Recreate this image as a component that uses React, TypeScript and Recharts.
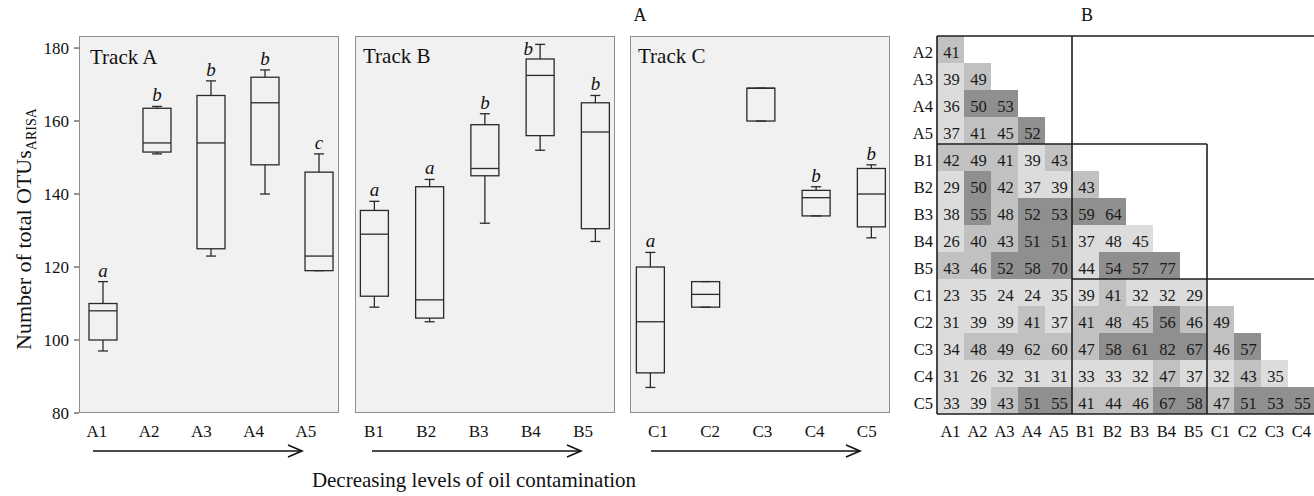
import React from 'react';
import { ComposedChart, Bar, XAxis, YAxis, ScatterChart, Scatter, ReferenceLine } from 'recharts';

const FONT = '"Liberation Serif", "Times New Roman", Times, serif';

// ---------- Panel A: boxplots ----------
const yTicks = [80, 100, 120, 140, 160, 180];

const trackACategories = ['A1', 'A2', 'A3', 'A4', 'A5'];
const trackAMin = [97, 151, 123, 140, 119];
const trackAQ1 = [100, 151.5, 125, 148, 119];
const trackAMedian = [108, 154, 154, 165, 123];
const trackAQ3 = [110, 163.5, 167, 172, 146];
const trackAMax = [116, 164, 171, 174, 151];
const trackALetters = ['a', 'b', 'b', 'b', 'c'];

const trackBCategories = ['B1', 'B2', 'B3', 'B4', 'B5'];
const trackBMin = [109, 105, 132, 152, 127];
const trackBQ1 = [112, 106, 145, 156, 130.5];
const trackBMedian = [129, 111, 147, 172.5, 157];
const trackBQ3 = [135.5, 142, 159, 177, 165];
const trackBMax = [138, 144, 162, 181, 167];
const trackBLetters = ['a', 'a', 'b', 'b', 'b'];

const trackCCategories = ['C1', 'C2', 'C3', 'C4', 'C5'];
const trackCMin = [87, 109, 160, 134, 128];
const trackCQ1 = [91, 109, 160, 134, 131];
const trackCMedian = [105, 112.5, 169, 139, 140];
const trackCQ3 = [120, 116, 169, 141, 147];
const trackCMax = [124, 116, 169, 142, 148];
const trackCLetters = ['a', '', '', 'b', 'b'];

// ---------- Panel B: pairwise matrix ----------
const rowLabels = ['A2', 'A3', 'A4', 'A5', 'B1', 'B2', 'B3', 'B4', 'B5', 'C1', 'C2', 'C3', 'C4', 'C5'];
const colLabels = ['A1', 'A2', 'A3', 'A4', 'A5', 'B1', 'B2', 'B3', 'B4', 'B5', 'C1', 'C2', 'C3', 'C4'];
const pairValues = [
  [41],
  [39, 49],
  [36, 50, 53],
  [37, 41, 45, 52],
  [42, 49, 41, 39, 43],
  [29, 50, 42, 37, 39, 43],
  [38, 55, 48, 52, 53, 59, 64],
  [26, 40, 43, 51, 51, 37, 48, 45],
  [43, 46, 52, 58, 70, 44, 54, 57, 77],
  [23, 35, 24, 24, 35, 39, 41, 32, 32, 29],
  [31, 39, 39, 41, 37, 41, 48, 45, 56, 46, 49],
  [34, 48, 49, 62, 60, 47, 58, 61, 82, 67, 46, 57],
  [31, 26, 32, 31, 31, 33, 33, 32, 47, 37, 32, 43, 35],
  [33, 39, 43, 51, 55, 41, 44, 46, 67, 58, 47, 51, 53, 55],
];
// shading class of each cell: 0 light, 1 medium, 2 dark
const pairShade = [
  [1],
  [0, 1],
  [0, 2, 2],
  [0, 1, 1, 2],
  [1, 1, 1, 0, 1],
  [0, 2, 1, 0, 0, 1],
  [0, 2, 1, 2, 2, 2, 2],
  [0, 1, 1, 2, 2, 0, 0, 0],
  [1, 1, 2, 2, 2, 0, 2, 2, 2],
  [0, 0, 0, 0, 0, 0, 1, 0, 0, 0],
  [0, 0, 0, 1, 0, 1, 1, 1, 2, 1, 1],
  [0, 1, 1, 1, 1, 1, 2, 2, 2, 2, 1, 2],
  [0, 0, 0, 0, 0, 0, 0, 0, 1, 0, 0, 1, 0],
  [0, 0, 1, 2, 2, 1, 1, 1, 2, 2, 1, 2, 2, 2],
];
const shadeColors = ['#dcdcdc', '#c1c1c1', '#8f8f8f'];

const Y_DOMAIN: [number, number] = [80, 183.3];
const STROKE = '#2a2a2a';

function BoxShape(props: any) {
  const { x, y, width, height, payload } = props;
  if (!payload || x == null) return null;
  const top = Math.min(y, y + height);
  const h = Math.abs(height);
  const { q1, q3, median, min, max, letter } = payload;
  const py = (v: number) => top + (h * (q3 - v)) / (q3 - q1);
  const cx = x + width / 2;
  const cap = 5;
  const yMax = py(max);
  const yMin = py(min);
  const yMed = py(median);
  const plotTop = py(Y_DOMAIN[1]);
  const crowded = yMax - 19 < plotTop;
  const lx = crowded ? cx - 12 : cx;
  const ly = crowded ? yMax + 11 : yMax - 5;
  return (
    <g stroke={STROKE} strokeWidth={1.3} fill="none">
      <line x1={cx} x2={cx} y1={yMax} y2={top} />
      <line x1={cx - cap} x2={cx + cap} y1={yMax} y2={yMax} />
      <line x1={cx} x2={cx} y1={top + h} y2={yMin} />
      <line x1={cx - cap} x2={cx + cap} y1={yMin} y2={yMin} />
      <rect x={x} y={top} width={width} height={h} />
      <line x1={x} x2={x + width} y1={yMed} y2={yMed} />
      {letter ? (
        <text
          x={lx}
          y={ly}
          textAnchor="middle"
          stroke="none"
          fill="#111"
          fontStyle="italic"
          fontSize={19}
          fontFamily={FONT}
        >
          {letter}
        </text>
      ) : null}
    </g>
  );
}

type PanelProps = {
  left: number;
  width: number;
  yAxisWidth: number;
  rightMargin: number;
  cats: string[];
  min: number[];
  q1: number[];
  median: number[];
  q3: number[];
  max: number[];
  letters: string[];
  boxDomain: [number, number];
  labelDomain: [number, number];
};

function TrackPanel(p: PanelProps) {
  const data = p.cats.map((c, i) => ({
    pos: i + 1,
    name: c,
    min: p.min[i],
    q1: p.q1[i],
    median: p.median[i],
    q3: p.q3[i],
    max: p.max[i],
    letter: p.letters[i],
  }));
  const ticks = [1, 2, 3, 4, 5];
  return (
    <div style={{ position: 'absolute', left: p.left, top: 0 }}>
      <ComposedChart
        width={p.width}
        height={496}
        data={data}
        margin={{ top: 36, right: p.rightMargin, bottom: 53, left: 0 }}
      >
        <XAxis
          xAxisId="box"
          orientation="top"
          type="number"
          dataKey="pos"
          domain={p.boxDomain}
          ticks={ticks}
          hide
        />
        <XAxis
          xAxisId="lab"
          type="number"
          dataKey="pos"
          domain={p.labelDomain}
          ticks={ticks}
          allowDataOverflow
          interval={0}
          axisLine={false}
          tickLine={false}
          tickSize={6}
          tickMargin={6}
          height={30}
          tickFormatter={(v: number) => p.cats[Math.round(v) - 1] ?? ''}
          tick={{ fontSize: 17, fill: '#111', fontFamily: FONT }}
        />
        {p.yAxisWidth > 0 ? (
          <YAxis
            type="number"
            domain={Y_DOMAIN}
            ticks={yTicks}
            interval={0}
            width={p.yAxisWidth}
            axisLine={false}
            tickLine={{ stroke: STROKE }}
            tickSize={5}
            tickMargin={5}
            tick={{ fontSize: 17, fill: '#111', fontFamily: FONT }}
          />
        ) : (
          <YAxis type="number" domain={Y_DOMAIN} hide />
        )}
        <Bar
          xAxisId="box"
          dataKey={(d: any) => [d.q1, d.q3]}
          barSize={28}
          isAnimationActive={false}
          shape={(sp: any) => <BoxShape {...sp} />}
        />
      </ComposedChart>
    </div>
  );
}

const heatCells = pairValues.flatMap((row, r) =>
  row.map((v, c) => ({ col: c, row: r, v, shade: pairShade[r][c] }))
);

function CellShape(props: any) {
  const { cx, cy, payload } = props;
  if (cx == null || cy == null || !payload) return null;
  const s = 27;
  return (
    <g>
      <rect x={cx - s / 2} y={cy - s / 2} width={s} height={s} fill={shadeColors[payload.shade]} stroke="none" />
      <text x={cx + 1} y={cy + 8.5} textAnchor="middle" fontSize={16.5} fill="#1a1a1a" fontFamily={FONT}>
        {payload.v}
      </text>
    </g>
  );
}

const colTicks = colLabels.map((_, i) => i);
const rowTicks = rowLabels.map((_, i) => i);

function renderColTick(props: any) {
  const { x, y, payload } = props;
  return (
    <text x={x} y={y + 23} textAnchor="middle" fontSize={16.5} fill="#111" fontFamily={FONT}>
      {colLabels[payload.value]}
    </text>
  );
}
function renderRowTick(props: any) {
  const { x, y, payload } = props;
  return (
    <text x={x} y={y + 8.5} textAnchor="end" fontSize={16.5} fill="#111" fontFamily={FONT}>
      {rowLabels[payload.value]}
    </text>
  );
}
const emptyTick = () => <g />;

const blockSegments: { x1: number; y1: number; x2: number; y2: number }[] = [
  { x1: -0.5, y1: -0.5, x2: 13.5, y2: -0.5 },
  { x1: -0.5, y1: -0.5, x2: -0.5, y2: 13.5 },
  { x1: -0.5, y1: 13.5, x2: 13.5, y2: 13.5 },
  { x1: 4.5, y1: -0.5, x2: 4.5, y2: 13.5 },
  { x1: -0.5, y1: 3.5, x2: 9.5, y2: 3.5 },
  { x1: 9.5, y1: 3.5, x2: 9.5, y2: 13.5 },
  { x1: 4.5, y1: 8.5, x2: 13.5, y2: 8.5 },
];

const HEAT_DOMAIN: [number, number] = [-0.5, 13.5];

function HeatLayer({ lines }: { lines: boolean }) {
  return (
    <div style={{ position: 'absolute', left: 900, top: 0 }}>
      <ScatterChart width={415} height={496} margin={{ top: 36, right: 0, bottom: 52, left: 0 }}>
        <XAxis
          type="number"
          dataKey="col"
          domain={HEAT_DOMAIN}
          ticks={colTicks}
          allowDataOverflow
          interval={0}
          axisLine={false}
          tickLine={false}
          tickSize={0}
          tickMargin={0}
          height={30}
          tick={lines ? emptyTick : renderColTick}
        />
        <YAxis
          type="number"
          dataKey="row"
          domain={HEAT_DOMAIN}
          reversed
          ticks={rowTicks}
          allowDataOverflow
          interval={0}
          axisLine={false}
          tickLine={false}
          tickSize={0}
          tickMargin={4}
          width={37}
          tick={lines ? emptyTick : renderRowTick}
        />
        <Scatter
          data={heatCells}
          isAnimationActive={false}
          shape={(sp: any) => (lines ? <g /> : <CellShape {...sp} />)}
        />
        {lines
          ? blockSegments.map((s, i) => (
              <ReferenceLine
                key={i}
                segment={[
                  { x: s.x1, y: s.y1 },
                  { x: s.x2, y: s.y2 },
                ]}
                stroke="#1e1e1e"
                strokeWidth={1.6}
                ifOverflow="visible"
              />
            ))
          : null}
      </ScatterChart>
    </div>
  );
}

function Arrow({ x1, x2, y }: { x1: number; x2: number; y: number }) {
  return (
    <g stroke="#111" strokeWidth={1.6} fill="none">
      <line x1={x1} x2={x2} y1={y} y2={y} />
      <polyline points={`${x2 - 14},${y - 6} ${x2},${y} ${x2 - 14},${y + 6}`} />
    </g>
  );
}

const panelBoxes = [
  { left: 79, width: 260 },
  { left: 355, width: 260 },
  { left: 630, width: 260 },
];

export default function App() {
  return (
    <div
      style={{
        position: 'absolute',
        left: 0,
        top: 0,
        width: 1314,
        height: 496,
        overflow: 'hidden',
        background: '#fff',
        fontFamily: FONT,
      }}
    >
      {panelBoxes.map((b, i) => (
        <div
          key={i}
          style={{
            position: 'absolute',
            left: b.left,
            top: 36,
            width: b.width,
            height: 377,
            boxSizing: 'border-box',
            border: '1px solid #8e8e8e',
            background: '#f1f1f1',
          }}
        />
      ))}
      <TrackPanel
        left={0}
        width={345}
        yAxisWidth={79}
        rightMargin={6}
        cats={trackACategories}
        min={trackAMin}
        q1={trackAQ1}
        median={trackAMedian}
        q3={trackAQ3}
        max={trackAMax}
        letters={trackALetters}
        boxDomain={[0.556, 5.37]}
        labelDomain={[0.6555, 5.632]}
      />
      <TrackPanel
        left={355}
        width={260}
        yAxisWidth={0}
        rightMargin={0}
        cats={trackBCategories}
        min={trackBMin}
        q1={trackBQ1}
        median={trackBMedian}
        q3={trackBQ3}
        max={trackBMax}
        letters={trackBLetters}
        boxDomain={[0.656, 5.362]}
        labelDomain={[0.637, 5.608]}
      />
      <TrackPanel
        left={630}
        width={260}
        yAxisWidth={0}
        rightMargin={0}
        cats={trackCCategories}
        min={trackCMin}
        q1={trackCQ1}
        median={trackCMedian}
        q3={trackCQ3}
        max={trackCMax}
        letters={trackCLetters}
        boxDomain={[0.638, 5.344]}
        labelDomain={[0.4636, 5.445]}
      />
      <HeatLayer lines={false} />
      <HeatLayer lines={true} />
      <svg
        width={1314}
        height={496}
        style={{ position: 'absolute', left: 0, top: 0, pointerEvents: 'none' }}
        fontFamily={FONT}
      >
        <text x={640} y={21} textAnchor="middle" fontSize={18} fill="#111">A</text>
        <text x={1087} y={21} textAnchor="middle" fontSize={18} fill="#111">B</text>
        <text x={90} y={64} fontSize={21} fill="#111">Track A</text>
        <text x={363} y={63} fontSize={21} fill="#111">Track B</text>
        <text x={638} y={63} fontSize={21} fill="#111">Track C</text>
        <Arrow x1={93} x2={302} y={451} />
        <Arrow x1={372} x2={581} y={451} />
        <Arrow x1={651} x2={860} y={451} />
        <text x={474} y={487} textAnchor="middle" fontSize={21} fill="#111">
          Decreasing levels of oil contamination
        </text>
        <text transform="translate(31,350) rotate(-90)" fontSize={22} fill="#111">
          Number of total OTUs
          <tspan fontSize={14} dy={5}>ARISA</tspan>
        </text>
      </svg>
    </div>
  );
}
